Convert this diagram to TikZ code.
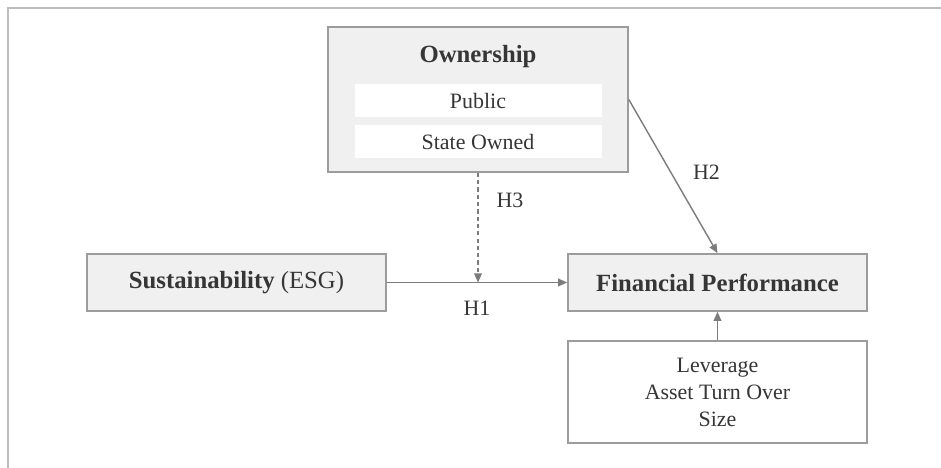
\documentclass[tikz,border=0pt]{standalone}
\usepackage{fontspec}
\setmainfont{Liberation Serif}
\usetikzlibrary{arrows.meta}
\definecolor{boxfill}{HTML}{F0F0F0}
\definecolor{boxdraw}{HTML}{9C9C9C}
\definecolor{inktext}{HTML}{363636}
\definecolor{linkgray}{HTML}{7C7C7C}
\definecolor{framegray}{HTML}{BDBDBD}
\tikzstyle{factorstyle}=[draw=boxdraw, fill=boxfill, line width=1.1pt, text=inktext, text centered, inner sep=0pt]
\tikzstyle{factor} = [factorstyle, minimum width=7.475cm, minimum height=1.425cm,
  font=\fontsize{17.6}{21}\selectfont]
\tikzstyle{groupbox} = [factorstyle, minimum width=7.5cm, minimum height=3.625cm]
\tikzstyle{ownitem} = [fill=white, text=inktext, minimum width=6.175cm, minimum height=0.825cm,
  inner sep=0pt, font=\fontsize{15.6}{19}\selectfont]
\tikzstyle{controlbox} = [factorstyle, fill=white, minimum width=7.475cm, minimum height=2.55cm,
  align=center, font=\fontsize{15.6}{19.2}\selectfont]
\tikzstyle{hlabel} = [text=inktext, font=\fontsize{15.6}{19}\selectfont]
\tikzstyle{line} = [draw, line width=1pt, color=linkgray, -{Triangle[length=6.5pt,width=5.5pt]}]
\tikzstyle{dashline} = [line, dash pattern=on 3pt off 2.2pt]
\newcommand{\construct}[2]{node (#1) [factor] {#2}}

\begin{document}
\begin{tikzpicture}
\useasboundingbox (0,0) rectangle (23.525,-11.7);
% Open frame along the top and left
\draw [framegray, line width=1.4pt] (0.2,-11.7) -- (0.2,-0.2) -- (23.525,-0.2);

% Draw diagram elements
\path (5.9125,-7.0625)          \construct{sus}{\textbf{Sustainability} (ESG)};
\path (sus) + (12.025, 0.0)     \construct{fp}{\textbf{Financial Performance}};
\path (fp) + (0.0, -2.7375)     node (ctrl) [controlbox] {Leverage\\Asset Turn Over\\Size};
\path (sus) + (6.0375, 4.575)   node (own) [groupbox] {};
\path (own.north) + (0.0, -0.75)   node (ownt) [hlabel, font=\fontsize{17.6}{21}\selectfont] {\textbf{Ownership}};
\path (own.north) + (0.0, -1.8625) node (pub) [ownitem] {Public};
\path (own.north) + (0.0, -2.8875) node (state) [ownitem] {State Owned};

% Draw arrows between elements
\path [line] (sus) -- node [hlabel, yshift=-0.64cm] {H1} (fp);
\path [dashline] (own) -- node [hlabel, pos=0.25, xshift=0.8cm] {H3} (own |- sus.east);
\path [line] (own.east) -- node [hlabel, pos=0.47, xshift=0.9cm] {H2} (fp.north);
\path [line] (ctrl) -- (fp);

\end{tikzpicture}
\end{document}
